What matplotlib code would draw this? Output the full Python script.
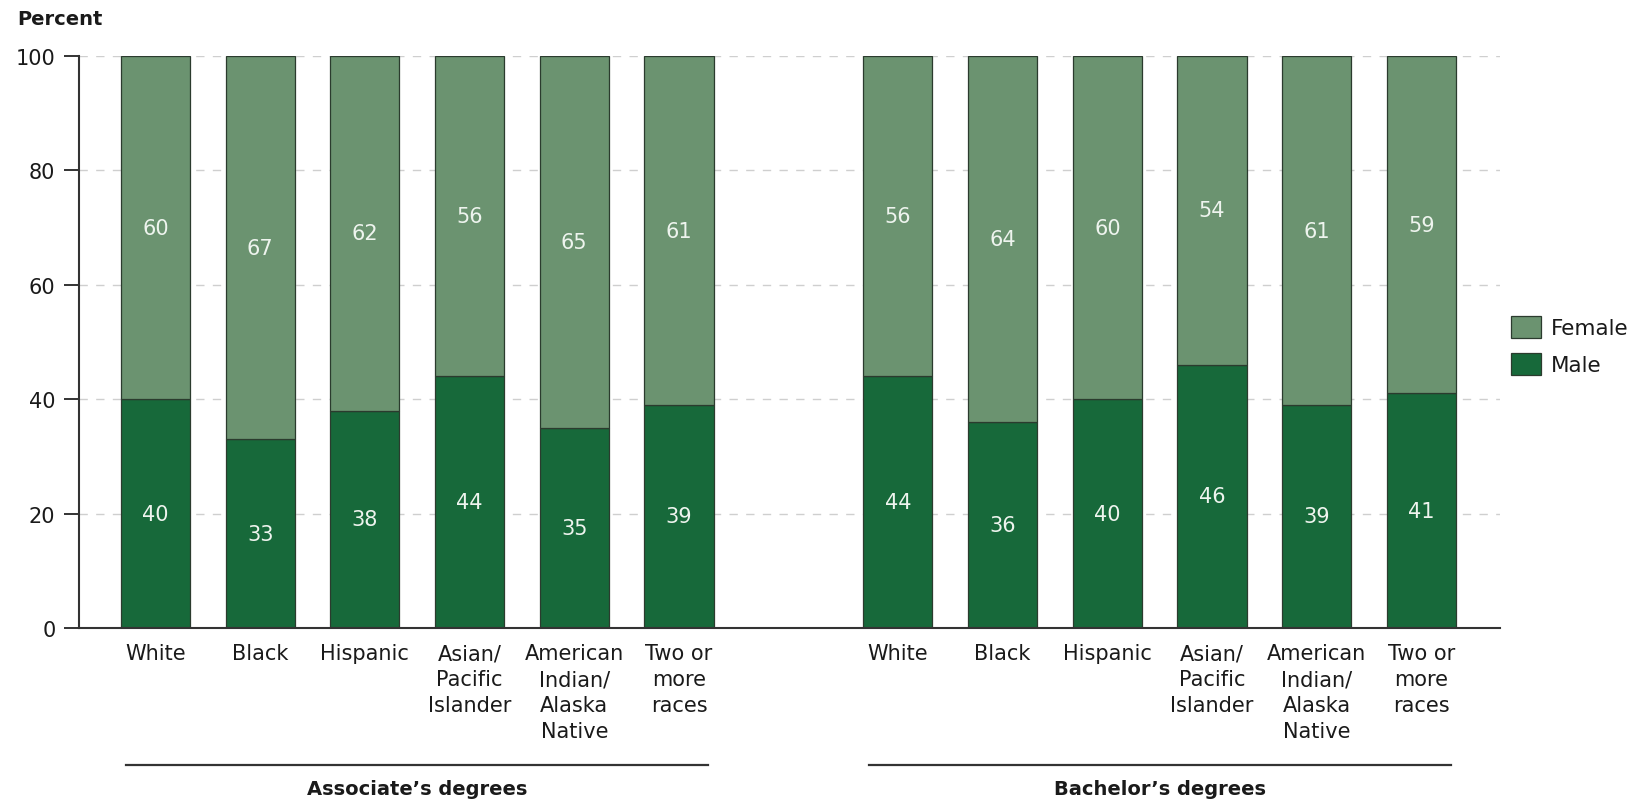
import matplotlib.pyplot as plt
import matplotlib.transforms as mtransforms
import numpy as np

plt.rcParams['font.family'] = ['DejaVu Sans']

# Data
races = ['White', 'Black', 'Hispanic', 'Asian/\nPacific\nIslander',
         'American\nIndian/\nAlaska\nNative', 'Two or\nmore\nraces']
groups = ['Associate\u2019s degrees', 'Bachelor\u2019s degrees']
assoc_male = [40, 33, 38, 44, 35, 39]
assoc_female = [60, 67, 62, 56, 65, 61]
bach_male = [44, 36, 40, 46, 39, 41]
bach_female = [56, 64, 60, 54, 61, 59]

female_color = '#6b9370'
male_color = '#17693a'
edge_color = '#2b3b2e'
text_color = '#1a1a1a'

male = assoc_male + bach_male
female = assoc_female + bach_female
n = len(races)
gap = 7.09
x = np.concatenate([np.arange(n), np.arange(n) + gap])
width = 0.66

fig = plt.figure(figsize=(16.39, 8.04), dpi=100)
ax = fig.add_axes([0.0482, 0.2177, 0.9152 - 0.0482, 0.929 - 0.2177])

# gridlines behind bars
for yv in [20, 40, 60, 80, 100]:
    ax.axhline(yv, color='#cfcfcf', linestyle=(0, (6, 6)), linewidth=1.0, zorder=0)

ax.bar(x, male, width, color=male_color, edgecolor=edge_color, linewidth=0.9,
       label='Male', zorder=2)
ax.bar(x, female, width, bottom=male, color=female_color, edgecolor=edge_color,
       linewidth=0.9, label='Female', zorder=2)

# value labels inside the segments
for xi, m, f in zip(x, male, female):
    ax.text(xi, m / 2, str(m), ha='center', va='center', fontsize=15,
            color='#eef4ee', zorder=3)
    ax.text(xi, m + f / 2, str(f), ha='center', va='center', fontsize=15,
            color='#eef4ee', zorder=3)

ax.set_xlim(-0.73, 12.84)
ax.set_ylim(0, 100)
ax.set_yticks([0, 20, 40, 60, 80, 100])
ax.set_xticks(x)
ax.set_xticklabels(races * 2, fontsize=15, color=text_color, linespacing=1.36)
ax.tick_params(axis='x', length=0, pad=11)
ax.tick_params(axis='y', length=11, width=1.4, pad=6, labelsize=15,
               labelcolor=text_color, color='#333333')
for side in ['top', 'right']:
    ax.spines[side].set_visible(False)
for side in ['left', 'bottom']:
    ax.spines[side].set_color('#333333')
    ax.spines[side].set_linewidth(1.5)
    ax.spines[side].set_zorder(4)

# group underlines and labels
trans = mtransforms.blended_transform_factory(ax.transData, ax.transAxes)
for gi, name in enumerate(groups):
    center = (n - 1) / 2 + gi * gap
    ax.plot([center - 2.78, center + 2.78], [-0.2395, -0.2395], color='#333333',
            linewidth=1.6, transform=trans, clip_on=False)
    ax.text(center, -0.28, name, transform=trans, ha='center', va='center',
            fontsize=14, fontweight='bold', color=text_color)

fig.text(17 / 1639, 1 - 25 / 804, 'Percent', fontsize=14, fontweight='bold',
         ha='left', va='baseline', color=text_color)

handles, labels = ax.get_legend_handles_labels()
leg = fig.legend(handles[::-1], labels[::-1], loc='upper left',
                 bbox_to_anchor=(0.922, 0.606), frameon=False, fontsize=15.5,
                 handlelength=1.4, handleheight=1.2, handletextpad=0.45,
                 labelspacing=0.7, borderpad=0, borderaxespad=0)
for t in leg.get_texts():
    t.set_color(text_color)

fig.savefig('out.png', dpi=100)
